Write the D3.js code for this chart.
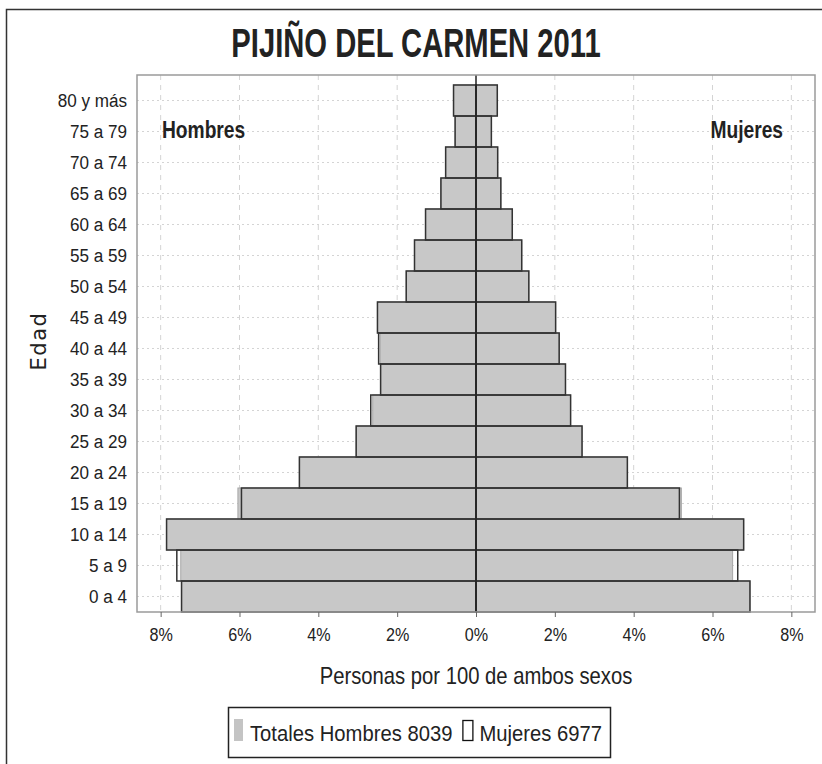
<!DOCTYPE html>
<html>
<head>
<meta charset="utf-8">
<script src="https://cdn.jsdelivr.net/npm/d3@7"></script>
<style>
  body { margin: 0; background: #fff; }
  #chart svg { display: block; }
</style>
</head>
<body>
<div id="chart"></div>
<script>
// Grupos de edad (de abajo hacia arriba)
const edades = ["0 a 4", "5 a 9", "10 a 14", "15 a 19", "20 a 24", "25 a 29", "30 a 34",
    "35 a 39", "40 a 44", "45 a 49", "50 a 54", "55 a 59", "60 a 64", "65 a 69",
    "70 a 74", "75 a 79", "80 y más"];

// Barras rellenas (gris)
const hombresRelleno = [7.47, 7.49, 7.85, 6.04, 4.48, 3.04, 2.62, 2.42, 2.43, 2.50, 1.77, 1.56, 1.28, 0.89, 0.77, 0.53, 0.57];
const mujeresRelleno = [6.95, 6.51, 6.79, 5.21, 3.84, 2.69, 2.40, 2.27, 2.11, 2.02, 1.34, 1.16, 0.92, 0.63, 0.55, 0.39, 0.54];

// Barras de contorno (negro)
const hombresContorno = [7.47, 7.59, 7.85, 5.95, 4.48, 3.04, 2.67, 2.42, 2.47, 2.50, 1.77, 1.56, 1.28, 0.89, 0.77, 0.53, 0.57];
const mujeresContorno = [6.95, 6.64, 6.79, 5.16, 3.84, 2.69, 2.40, 2.27, 2.11, 2.02, 1.34, 1.16, 0.92, 0.63, 0.55, 0.39, 0.54];

const xTicks = [-8, -6, -4, -2, 0, 2, 4, 6, 8];
const titulo = "PIJIÑO DEL CARMEN 2011";
const leyenda = ["Totales Hombres 8039", "Mujeres 6977"];

const sans = "'Liberation Sans', Arial, sans-serif";

// no narrow font installed, so squeeze text horizontally
function condensed(parent, x, y, txt, size, sx, anchor, weight) {
    const g = parent.append("g")
        .attr("transform", `translate(${x},${y}) scale(${sx},1)`);
    const t = g.append("text")
        .attr("text-anchor", anchor || "start")
        .attr("font-family", sans)
        .attr("font-size", size)
        .attr("font-weight", weight || "normal")
        .attr("fill", "#222")
        .text(txt);
    return t.node().getComputedTextLength() * sx;
}

function init() {
    const width = 822;
    const height = 764;
    const margin = { top: 75, right: 7, bottom: 152, left: 137 };

    const svg = d3.select("#chart").append("svg")
        .attr("width", width)
        .attr("height", height);

    // Outer frame
    svg.append("rect")
        .attr("x", 6.5).attr("y", 9.5)
        .attr("width", width).attr("height", height)
        .attr("fill", "none")
        .attr("stroke", "#333")
        .attr("stroke-width", 1.5);

    const x = d3.scaleLinear()
        .domain([-8.6, 8.6])
        .range([margin.left, width - margin.right]);

    const y = d3.scaleBand()
        .domain(edades.slice().reverse())
        .range([85, height - margin.bottom])
        .padding(0);

    const top = margin.top, bottom = height - margin.bottom;

    // Grid lines
    svg.append("g").selectAll("line")
        .data(xTicks.filter(d => d !== 0))
        .join("line")
        .attr("x1", d => x(d)).attr("x2", d => x(d))
        .attr("y1", top).attr("y2", bottom)
        .attr("stroke", "#d4d4d4")
        .attr("stroke-dasharray", "5,5");

    svg.append("g").selectAll("line")
        .data(edades)
        .join("line")
        .attr("x1", margin.left).attr("x2", width - margin.right)
        .attr("y1", d => y(d) + y.bandwidth() / 2)
        .attr("y2", d => y(d) + y.bandwidth() / 2)
        .attr("stroke", "#d4d4d4")
        .attr("stroke-dasharray", "2,3");

    // Filled bars
    const filled = svg.append("g");
    filled.selectAll("rect.h")
        .data(edades)
        .join("rect")
        .attr("class", "h")
        .attr("x", (d, i) => x(-hombresRelleno[i]))
        .attr("y", d => y(d))
        .attr("width", (d, i) => x(0) - x(-hombresRelleno[i]))
        .attr("height", y.bandwidth())
        .attr("fill", "#c8c8c8")
        .attr("stroke", "#a8a8a8");
    filled.selectAll("rect.m")
        .data(edades)
        .join("rect")
        .attr("class", "m")
        .attr("x", x(0))
        .attr("y", d => y(d))
        .attr("width", (d, i) => x(mujeresRelleno[i]) - x(0))
        .attr("height", y.bandwidth())
        .attr("fill", "#c8c8c8")
        .attr("stroke", "#a8a8a8");

    // Outline bars
    const outline = svg.append("g");
    outline.selectAll("rect.h")
        .data(edades)
        .join("rect")
        .attr("class", "h")
        .attr("x", (d, i) => x(-hombresContorno[i]))
        .attr("y", d => y(d))
        .attr("width", (d, i) => x(0) - x(-hombresContorno[i]))
        .attr("height", y.bandwidth())
        .attr("fill", "none")
        .attr("stroke", "#333")
        .attr("stroke-width", 1.5);
    outline.selectAll("rect.m")
        .data(edades)
        .join("rect")
        .attr("class", "m")
        .attr("x", x(0))
        .attr("y", d => y(d))
        .attr("width", (d, i) => x(mujeresContorno[i]) - x(0))
        .attr("height", y.bandwidth())
        .attr("fill", "none")
        .attr("stroke", "#333")
        .attr("stroke-width", 1.5);

    // Center line
    svg.append("line")
        .attr("x1", x(0)).attr("x2", x(0))
        .attr("y1", top).attr("y2", bottom)
        .attr("stroke", "#222")
        .attr("stroke-width", 1.5);

    // Plot border
    svg.append("rect")
        .attr("x", margin.left).attr("y", top)
        .attr("width", width - margin.right - margin.left)
        .attr("height", bottom - top)
        .attr("fill", "none")
        .attr("stroke", "#9a9a9a")
        .attr("stroke-width", 1.5);

    // Axes
    const xAxis = svg.append("g")
        .attr("transform", `translate(0,${bottom})`)
        .call(d3.axisBottom(x)
            .tickValues(xTicks)
            .tickFormat(d => Math.abs(d) + "%")
            .tickSize(5)
            .tickPadding(11));
    xAxis.select(".domain").remove();
    xAxis.selectAll(".tick line").attr("stroke", "#666");
    xAxis.selectAll("text")
        .attr("font-family", sans)
        .attr("font-size", 19)
        .attr("transform", "scale(0.85,1)")
        .attr("fill", "#222");

    const yAxis = svg.append("g")
        .attr("transform", `translate(${margin.left},0)`)
        .call(d3.axisLeft(y).tickSize(0).tickPadding(11));
    yAxis.select(".domain").remove();
    yAxis.selectAll("text")
        .attr("font-family", sans)
        .attr("font-size", 19)
        .attr("transform", "scale(0.9,1)")
        .attr("fill", "#222");

    // Title
    condensed(svg, 416, 57, titulo, 40, 0.73, "middle", "bold");

    // Side labels
    condensed(svg, 162, 138, "Hombres", 24, 0.8, "start", "bold");
    condensed(svg, 783, 138, "Mujeres", 24, 0.8, "end", "bold");

    // Axis titles
    condensed(svg, 476, 684, "Personas por 100 de ambos sexos", 23, 0.88, "middle");
    svg.append("text")
        .attr("transform", `translate(46,341) rotate(-90)`)
        .attr("text-anchor", "middle")
        .attr("font-family", "'DejaVu Sans', sans-serif")
        .attr("font-size", 21)
        .attr("letter-spacing", 1.5)
        .attr("fill", "#222")
        .text("Edad");

    // Legend
    const lg = svg.append("g");
    lg.append("rect")
        .attr("x", 228.5).attr("y", 707.5)
        .attr("width", 382).attr("height", 50)
        .attr("fill", "#fff")
        .attr("stroke", "#222")
        .attr("stroke-width", 1.5);
    lg.append("rect")
        .attr("x", 234).attr("y", 719)
        .attr("width", 9).attr("height", 22)
        .attr("fill", "#c4c4c4");
    const w1 = condensed(lg, 250, 741, leyenda[0], 22, 0.92);
    const x2 = 250 + w1 + 10;
    lg.append("rect")
        .attr("x", x2 + 0.5).attr("y", 720.5)
        .attr("width", 10).attr("height", 20)
        .attr("fill", "none")
        .attr("stroke", "#111")
        .attr("stroke-width", 1.3);
    condensed(lg, x2 + 17, 741, leyenda[1], 22, 0.92);
}

window.addEventListener("load", init);
</script>
</body>
</html>
